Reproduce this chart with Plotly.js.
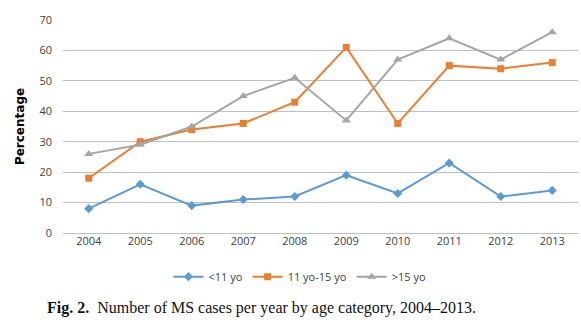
<!DOCTYPE html>
<html><head><meta charset="utf-8">
<script src="https://cdn.plot.ly/plotly-3.0.1.min.js"></script>
<style>body{margin:0;background:#fff}#c{width:581px;height:326px}</style>
</head><body><div id="c"></div>
<script>
const years = ['2004','2005','2006','2007','2008','2009','2010','2011','2012','2013'];
const under11 = [8, 16, 9, 11, 12, 19, 13, 23, 12, 14];
const age11to15 = [18, 30, 34, 36, 43, 61, 36, 55, 54, 56];
const over15 = [26, 29, 35, 45, 51, 37, 57, 64, 57, 66];
const seriesNames = ['<11 yo', '11 yo-15 yo', '>15 yo'];
const yTicks = [0, 10, 20, 30, 40, 50, 60, 70];

const traces = [
  {x: years, y: under11, name: seriesNames[0], mode: 'lines+markers', type: 'scatter',
   line: {color: '#5B9BD5', width: 2}, marker: {symbol: 'diamond', size: 7, color: '#5B9BD5'}},
  {x: years, y: age11to15, name: seriesNames[1], mode: 'lines+markers', type: 'scatter',
   line: {color: '#ED7D31', width: 2}, marker: {symbol: 'square', size: 7, color: '#ED7D31'}},
  {x: years, y: over15, name: seriesNames[2], mode: 'lines+markers', type: 'scatter',
   line: {color: '#A5A5A5', width: 2}, marker: {symbol: 'triangle-up', size: 8, color: '#A5A5A5'}}
];

const layout = {
  width: 581, height: 326,
  margin: {l: 63, r: 3, t: 20, b: 93},
  paper_bgcolor: '#fff', plot_bgcolor: '#fff',
  font: {family: 'Open Sans, sans-serif', size: 11, color: '#404040'},
  xaxis: {type: 'category', range: [-0.5, 9.5], showgrid: false, zeroline: false, showline: false,
          ticks: '', tickfont: {size: 11, color: '#404040'}},
  yaxis: {range: [0, 70], tickvals: yTicks, showgrid: true, gridcolor: '#BFBFBF', gridwidth: 1,
          zeroline: true, zerolinecolor: '#BFBFBF', showline: false, ticks: '',
          ticklabelstandoff: 10, tickfont: {size: 11, color: '#404040'},
          title: {text: '<b>Percentage</b>', font: {family: 'DejaVu Sans, sans-serif', size: 12, color: '#000'}, standoff: 12}},
  legend: {orientation: 'h', x: 0.46, xanchor: 'center', y: -0.205, yanchor: 'middle',
           font: {size: 11, color: '#404040'}},
  showlegend: true,
  annotations: [{
    xref: 'paper', yref: 'paper', x: 0.385, y: -0.35, xanchor: 'center', yanchor: 'middle',
    showarrow: false,
    text: '<b>Fig. 2.</b>  Number of MS cases per year by age category, 2004–2013.',
    font: {family: 'Liberation Serif, serif', size: 16, color: '#111'}
  }]
};
Plotly.newPlot('c', traces, layout, {displayModeBar: false, staticPlot: true});
</script></body></html>
